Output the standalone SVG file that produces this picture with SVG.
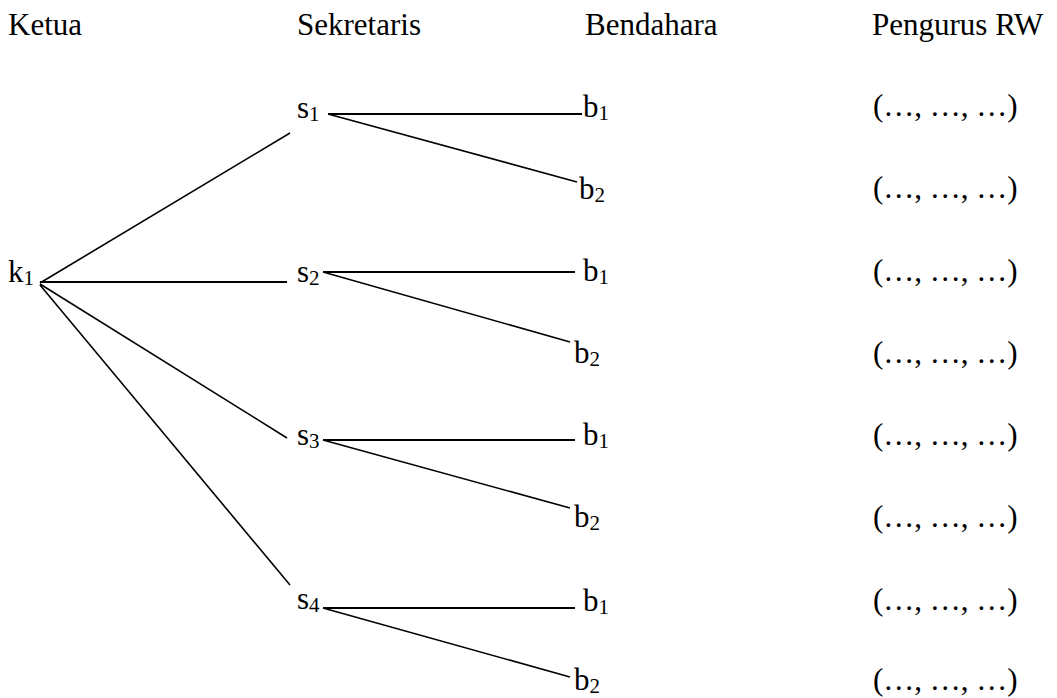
<svg xmlns="http://www.w3.org/2000/svg" width="1057" height="698" viewBox="0 0 1057 698">
  <style>
    text { font-family: "Liberation Serif", serif; font-size: 31px; fill: #000; }
    .sub { font-size: 21px; }
    .edge { stroke: #000; stroke-width: 1.6; fill: none; stroke-linecap: butt; }
  </style>
  <rect width="1057" height="698" fill="#fff"/>

  <!-- column headings -->
  <g id="headings">
    <text x="8" y="35">Ketua</text>
    <text x="297" y="35">Sekretaris</text>
    <text x="585" y="35">Bendahara</text>
    <text x="872" y="35">Pengurus RW</text>
  </g>

  <!-- connectors -->
  <g id="connectors" class="edge">
    <!-- chairman to secretaries -->
    <line x1="40" y1="283" x2="290" y2="133"/>
    <line x1="40" y1="282" x2="287" y2="282" stroke-width="2"/>
    <line x1="40" y1="284" x2="287" y2="438"/>
    <line x1="40" y1="285" x2="290" y2="585"/>
    <!-- secretaries to treasurers -->
    <line x1="328" y1="114" x2="582" y2="114" stroke-width="1.9"/>
    <line x1="328" y1="114" x2="577" y2="182"/>
    <line x1="323" y1="272" x2="575" y2="272" stroke-width="1.9"/>
    <line x1="323" y1="272" x2="570" y2="342"/>
    <line x1="323" y1="440" x2="575" y2="440" stroke-width="1.9"/>
    <line x1="323" y1="440" x2="570" y2="508"/>
    <line x1="323" y1="608" x2="575" y2="608" stroke-width="1.9"/>
    <line x1="323" y1="608" x2="570" y2="677"/>
  </g>

  <!-- chairman -->
  <g id="k1"><text x="8" y="282">k<tspan class="sub" dy="3">1</tspan></text></g>

  <!-- secretaries -->
  <g id="s1"><text x="297" y="118">s<tspan class="sub" dy="3">1</tspan></text></g>
  <g id="s2"><text x="297" y="282">s<tspan class="sub" dy="3">2</tspan></text></g>
  <g id="s3"><text x="297" y="445">s<tspan class="sub" dy="3">3</tspan></text></g>
  <g id="s4"><text x="297" y="609">s<tspan class="sub" dy="3">4</tspan></text></g>

  <!-- treasurers -->
  <g id="s1-b1"><text x="583" y="117">b<tspan class="sub" dy="3">1</tspan></text></g>
  <g id="s1-b2"><text x="579" y="199">b<tspan class="sub" dy="3">2</tspan></text></g>
  <g id="s2-b1"><text x="583" y="281">b<tspan class="sub" dy="3">1</tspan></text></g>
  <g id="s2-b2"><text x="574" y="363">b<tspan class="sub" dy="3">2</tspan></text></g>
  <g id="s3-b1"><text x="583" y="445">b<tspan class="sub" dy="3">1</tspan></text></g>
  <g id="s3-b2"><text x="574" y="527">b<tspan class="sub" dy="3">2</tspan></text></g>
  <g id="s4-b1"><text x="583" y="611">b<tspan class="sub" dy="3">1</tspan></text></g>
  <g id="s4-b2"><text x="574" y="690">b<tspan class="sub" dy="3">2</tspan></text></g>

  <!-- RW board slots -->
  <g id="rw-slots">
    <text x="873" y="116">(…, …, …)</text>
    <text x="873" y="198">(…, …, …)</text>
    <text x="873" y="281">(…, …, …)</text>
    <text x="873" y="363">(…, …, …)</text>
    <text x="873" y="445">(…, …, …)</text>
    <text x="873" y="527">(…, …, …)</text>
    <text x="873" y="610">(…, …, …)</text>
    <text x="873" y="690">(…, …, …)</text>
  </g>
</svg>
